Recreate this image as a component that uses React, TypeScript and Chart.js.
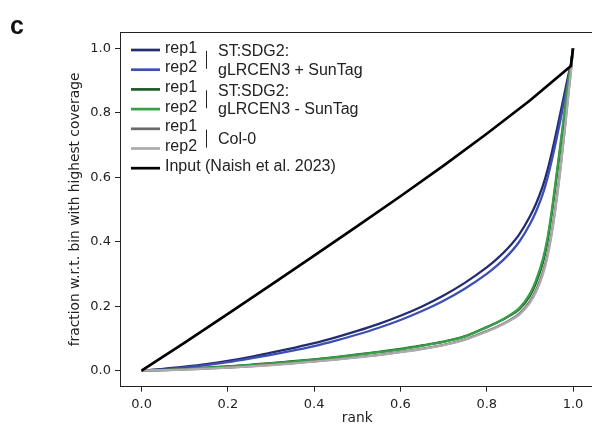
import { useEffect, useRef } from "react";
import { Chart, registerables } from "chart.js";

Chart.register(...registerables);

// ---------- data ----------
const RANKS = [0, 0.05, 0.1, 0.15, 0.2, 0.25, 0.3, 0.35, 0.4, 0.45, 0.5, 0.55, 0.6, 0.65, 0.7, 0.75, 0.8, 0.825, 0.85, 0.875, 0.9, 0.915, 0.93, 0.94, 0.95, 0.96, 0.97, 0.98, 0.99, 0.995, 1.0];

const SUN_REP1 = [0, 0.005, 0.012, 0.02, 0.03, 0.042, 0.056, 0.07, 0.085, 0.103, 0.123, 0.145, 0.17, 0.199, 0.233, 0.273, 0.32, 0.348, 0.381, 0.422, 0.478, 0.52, 0.573, 0.618, 0.672, 0.732, 0.795, 0.858, 0.922, 0.95, 1.0];
const SUN_REP2 = [0, 0.004, 0.01, 0.017, 0.026, 0.037, 0.049, 0.062, 0.076, 0.093, 0.112, 0.133, 0.157, 0.185, 0.217, 0.255, 0.3, 0.327, 0.359, 0.399, 0.454, 0.496, 0.548, 0.594, 0.648, 0.708, 0.772, 0.84, 0.91, 0.945, 1.0];
const NOSUN_REP1 = [0, 0.002, 0.005, 0.009, 0.013, 0.018, 0.023, 0.029, 0.035, 0.042, 0.05, 0.058, 0.067, 0.078, 0.09, 0.107, 0.135, 0.15, 0.168, 0.19, 0.232, 0.275, 0.335, 0.395, 0.48, 0.58, 0.685, 0.79, 0.9, 0.94, 1.0];
const NOSUN_REP2 = [0, 0.0015, 0.0045, 0.008, 0.012, 0.017, 0.022, 0.028, 0.034, 0.041, 0.049, 0.057, 0.066, 0.077, 0.089, 0.106, 0.134, 0.15, 0.169, 0.193, 0.238, 0.283, 0.345, 0.405, 0.49, 0.59, 0.695, 0.8, 0.905, 0.945, 1.0];
const COL_REP1 = [0, 0.0012, 0.0035, 0.0065, 0.0095, 0.0135, 0.018, 0.023, 0.029, 0.035, 0.042, 0.049, 0.058, 0.068, 0.08, 0.097, 0.123, 0.137, 0.154, 0.176, 0.215, 0.252, 0.305, 0.355, 0.425, 0.515, 0.62, 0.74, 0.87, 0.93, 1.0];
const COL_REP2 = [0, 0.001, 0.003, 0.006, 0.009, 0.013, 0.017, 0.022, 0.028, 0.034, 0.041, 0.048, 0.057, 0.067, 0.079, 0.096, 0.121, 0.135, 0.152, 0.173, 0.21, 0.246, 0.298, 0.348, 0.418, 0.508, 0.615, 0.735, 0.865, 0.925, 1.0];

const INPUT_RANKS = [0, 0.1, 0.2, 0.3, 0.4, 0.5, 0.6, 0.7, 0.8, 0.9, 0.995, 1.0];
const INPUT_VALUES = [0, 0.087, 0.176, 0.266, 0.357, 0.448, 0.541, 0.636, 0.735, 0.838, 0.945, 1.0];

const X_TICKS = [0, 0.2, 0.4, 0.6, 0.8, 1.0];
const Y_TICKS = [0, 0.2, 0.4, 0.6, 0.8, 1.0];

const REP_LABELS = ["rep1", "rep2", "rep1", "rep2", "rep1", "rep2"];
const GROUP_LABELS = [
  ["ST:SDG2:", "gLRCEN3 + SunTag"],
  ["ST:SDG2:", "gLRCEN3 - SunTag"],
  ["Col-0"],
];
const INPUT_LABEL = "Input (Naish et al. 2023)";
const X_TITLE = "rank";
const Y_TITLE = "fraction w.r.t. bin with highest coverage";
const PANEL_LABEL = "c";

// ---------- styles ----------
const SERIES_COLORS = ["#232d6e", "#3d4fb2", "#1f5a28", "#35a045", "#6a6a6a", "#ababab"];
const INPUT_COLOR = "#000000";
const TEXT_COLOR = "#222222";

const legendPlugin = {
  id: "customLegend",
  afterDraw(chart: any) {
    const ctx = chart.ctx as CanvasRenderingContext2D;
    const { left, top, right } = chart.chartArea;
    ctx.save();
    // top spine
    ctx.strokeStyle = TEXT_COLOR;
    ctx.lineWidth = 1;
    ctx.beginPath();
    ctx.moveTo(left, Math.round(top) + 0.5);
    ctx.lineTo(right, Math.round(top) + 0.5);
    ctx.stroke();

    // panel label
    ctx.fillStyle = "#111";
    ctx.font = "bold 25px 'Liberation Sans', Arial, sans-serif";
    ctx.textBaseline = "alphabetic";
    ctx.textAlign = "left";
    ctx.fillText(PANEL_LABEL, 10, 33.5);

    // legend
    const rowY = (i: number) => 50 + i * 19.7;
    const lineX0 = 131;
    const lineX1 = 160;
    ctx.font = "16px 'Liberation Sans', Arial, sans-serif";
    const colors = [...SERIES_COLORS, INPUT_COLOR];
    const labels = [...REP_LABELS, INPUT_LABEL];
    labels.forEach((lab, i) => {
      const y = rowY(i);
      ctx.strokeStyle = colors[i];
      ctx.lineWidth = 2.7;
      ctx.beginPath();
      ctx.moveTo(lineX0, y);
      ctx.lineTo(lineX1, y);
      ctx.stroke();
      ctx.fillStyle = TEXT_COLOR;
      ctx.fillText(lab, 165, y + 2.5);
    });
    GROUP_LABELS.forEach((lines, g) => {
      const c = (rowY(2 * g) + rowY(2 * g + 1)) / 2;
      ctx.strokeStyle = TEXT_COLOR;
      ctx.lineWidth = 1;
      ctx.beginPath();
      ctx.moveTo(206.5, c - 9);
      ctx.lineTo(206.5, c + 9);
      ctx.stroke();
      ctx.fillStyle = TEXT_COLOR;
      lines.forEach((t, k) => {
        const by = c + 5.7 + (k - (lines.length - 1) / 2) * 18.3;
        ctx.fillText(t, 218, by);
      });
    });
    ctx.restore();
  },
};

export default function App() {
  const ref = useRef<HTMLCanvasElement | null>(null);

  useEffect(() => {
    if (!ref.current) return;
    const series = [SUN_REP1, SUN_REP2, NOSUN_REP1, NOSUN_REP2, COL_REP1, COL_REP2];
    const datasets: any[] = series.map((vals, i) => ({
      label: REP_LABELS[i],
      data: RANKS.map((r, j) => ({ x: r, y: vals[j] })),
      borderColor: SERIES_COLORS[i],
      backgroundColor: SERIES_COLORS[i],
      borderWidth: 2.3,
      pointRadius: 0,
      cubicInterpolationMode: "monotone",
      fill: false,
      order: 7 - i,
    }));
    datasets.push({
      label: INPUT_LABEL,
      data: INPUT_RANKS.map((r, j) => ({ x: r, y: INPUT_VALUES[j] })),
      borderColor: INPUT_COLOR,
      backgroundColor: INPUT_COLOR,
      borderWidth: 2.7,
      pointRadius: 0,
      tension: 0,
      fill: false,
      order: 0,
    });

    const tickFont = { family: "'DejaVu Sans', sans-serif", size: 13 };
    const titleFont = { family: "'DejaVu Sans', sans-serif", size: 13.8 };

    const chart = new Chart(ref.current, {
      type: "line",
      data: { datasets },
      plugins: [legendPlugin],
      options: {
        animation: false,
        responsive: false,
        devicePixelRatio: 1,
        layout: { padding: { left: 0, top: 32.2, right: 5.4, bottom: 0 } },
        plugins: { legend: { display: false }, tooltip: { enabled: false } },
        scales: {
          x: {
            type: "linear",
            min: -0.05,
            max: 1.05,
            afterBuildTicks: (s: any) => {
              s.ticks = X_TICKS.map((v) => ({ value: v }));
            },
            afterFit: (s: any) => {
              s.height = 40.3;
            },
            ticks: {
              color: TEXT_COLOR,
              font: tickFont,
              padding: 5,
              maxRotation: 0,
              callback: (v: any) => Number(v).toFixed(1),
            },
            grid: { display: true, drawOnChartArea: false, drawTicks: true, tickLength: 5, color: TEXT_COLOR, lineWidth: 1 },
            border: { display: true, color: TEXT_COLOR, width: 1 },
            title: { display: true, text: X_TITLE, color: TEXT_COLOR, font: titleFont, padding: { top: 0, bottom: 0 } },
          },
          y: {
            type: "linear",
            min: -0.05,
            max: 1.05,
            afterBuildTicks: (s: any) => {
              s.ticks = Y_TICKS.map((v) => ({ value: v }));
            },
            afterFit: (s: any) => {
              s.width = 120;
            },
            ticks: {
              color: TEXT_COLOR,
              font: tickFont,
              padding: 4,
              callback: (v: any) => Number(v).toFixed(1),
            },
            grid: { display: true, drawOnChartArea: false, drawTicks: true, tickLength: 5, color: TEXT_COLOR, lineWidth: 1 },
            border: { display: true, color: TEXT_COLOR, width: 1 },
            title: { display: true, text: Y_TITLE, color: TEXT_COLOR, font: titleFont, padding: { top: 67, bottom: 0 } },
          },
        },
      } as any,
    });
    return () => chart.destroy();
  }, []);

  return (
    <div style={{ position: "absolute", left: 0, top: 0, width: 592, height: 427, overflow: "hidden", background: "#fff" }}>
      <canvas ref={ref} width={600} height={427} style={{ display: "block", width: 600, height: 427 }} />
    </div>
  );
}
